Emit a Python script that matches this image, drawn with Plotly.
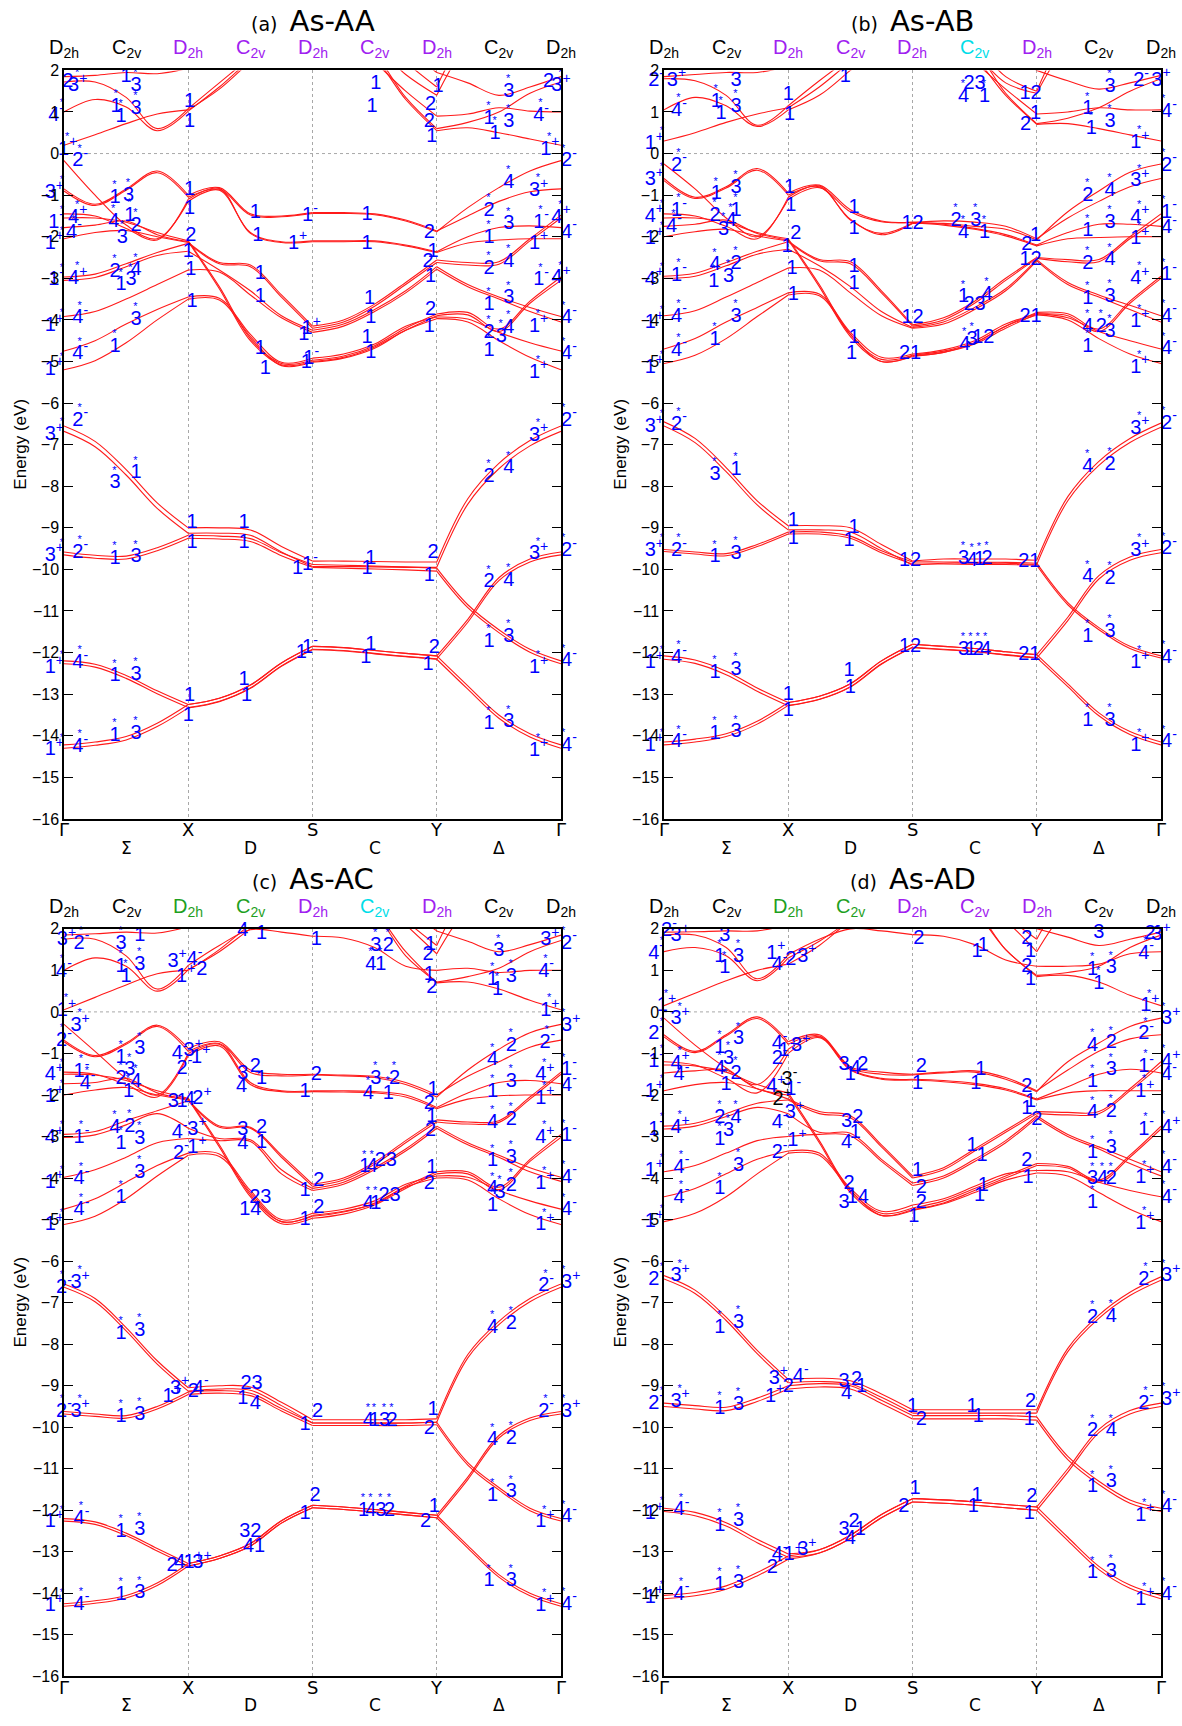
import plotly.graph_objects as go

W, H = 1182, 1726

# k-path nodes: G .25 .5 .75 X | 1.25 1.5 1.75 S | 2.25 2.5 2.75 Y | 3.25 3.5 3.75 G
TICK_TEXT = ["Γ", "X", "S", "Y", "Γ"]
MID_TEXT = ["Σ", "D", "C", "Δ"]
GROUP_TEXT = ["D<sub>2h</sub>", "C<sub>2v</sub>"] * 4 + ["D<sub>2h</sub>"]

# ---------------- panel (a) As-AA ----------------
AA_S = [
    [-14.22, -14.15, -14.02, -13.70, -13.25, -13.10, -12.78, -12.25, -11.85, -11.88, -11.95, -12.02, -12.08, -12.80, -13.50, -13.95, -14.22],
    [-12.20, -12.28, -12.55, -12.92, -13.25, -13.10, -12.78, -12.25, -11.85, -11.88, -11.95, -12.02, -12.08, -11.20, -10.20, -9.75, -9.58],
    [-9.58, -9.66, -9.68, -9.48, -9.18, -9.20, -9.26, -9.60, -9.88, -9.90, -9.92, -9.94, -9.97, -10.85, -11.45, -11.92, -12.20],
    [-6.55, -6.92, -7.60, -8.40, -9.00, -9.00, -9.05, -9.45, -9.80, -9.80, -9.81, -9.82, -9.82, -8.30, -7.45, -6.90, -6.55],
]
AA_SPLIT = [0.08, 0.07, 0.07, 0.13]
AA_V = [
    [-0.85, -1.22, -0.85, -0.42, -1.00, -0.82, -1.45, -1.50, -1.42, -1.42, -1.45, -1.60, -1.86, -1.50, -1.15, -0.92, -0.85],
    [-0.90, -1.25, -0.88, -0.46, -1.05, -0.86, -1.48, -1.52, -1.44, -1.44, -1.47, -1.62, -1.88, -1.30, -0.82, -0.42, -0.17],
    [-0.17, -1.00, -1.72, -2.05, -1.15, -0.88, -1.90, -2.12, -2.10, -2.10, -2.10, -2.20, -2.36, -2.00, -1.78, -1.74, -1.78],
    [-1.45, -1.50, -1.80, -2.08, -1.10, -0.84, -1.92, -2.14, -2.12, -2.12, -2.12, -2.22, -2.38, -2.15, -2.08, -2.05, -2.05],
    [-1.55, -1.55, -1.65, -1.90, -2.10, -3.20, -4.45, -5.05, -4.97, -4.87, -4.62, -4.20, -3.86, -3.82, -4.22, -3.55, -2.97],
    [-1.78, -1.72, -1.62, -1.95, -2.12, -3.25, -4.50, -5.08, -5.00, -4.90, -4.65, -4.25, -3.90, -3.88, -4.28, -3.60, -3.05],
    [-2.05, -1.90, -1.85, -2.00, -2.14, -2.62, -2.68, -3.40, -4.15, -4.00, -3.62, -3.10, -2.56, -2.62, -2.60, -2.05, -1.48],
    [-2.97, -2.90, -2.65, -2.38, -2.16, -2.65, -2.72, -3.45, -4.20, -4.05, -3.67, -3.15, -2.62, -2.68, -2.66, -2.10, -1.55],
    [-3.05, -2.98, -2.72, -2.45, -2.35, -2.80, -3.30, -3.90, -4.25, -4.10, -3.75, -3.30, -2.72, -3.15, -3.45, -3.70, -3.92],
    [-3.92, -3.80, -3.50, -3.15, -2.80, -2.85, -3.40, -3.95, -4.30, -4.15, -3.80, -3.35, -2.78, -3.20, -3.50, -3.80, -4.05],
    [-4.75, -4.50, -4.10, -3.75, -3.45, -3.48, -4.35, -5.02, -4.92, -4.82, -4.58, -4.15, -3.93, -3.98, -4.30, -4.55, -4.75],
    [-5.20, -4.98, -4.55, -4.00, -3.50, -3.52, -4.40, -5.10, -5.02, -4.92, -4.68, -4.25, -3.97, -4.05, -4.50, -4.90, -5.20],
]
AA_C = [
    [0.20, 0.45, 0.72, 0.95, 1.05, 1.55, 2.20, 2.70, 2.90, 2.80, 2.30, 1.30, 0.55, 0.62, 0.50, 0.35, 0.20],
    [1.00, 1.30, 1.12, 0.55, 1.02, 1.60, 2.25, 2.75, 2.95, 2.85, 2.20, 1.50, 0.90, 0.95, 1.10, 1.02, 1.00],
    [1.72, 1.72, 1.35, 0.60, 1.08, 1.70, 2.30, 2.80, 3.00, 2.90, 2.60, 1.90, 1.40, 2.60, 3.00, 3.00, 3.00],
    [1.85, 1.88, 1.95, 1.92, 2.05, 2.60, 3.00, 3.00, 3.00, 3.00, 2.90, 2.20, 1.60, 2.80, 3.00, 3.00, 3.00],
    [3.00, 3.00, 3.00, 3.00, 3.00, 3.00, 3.00, 3.00, 3.00, 3.00, 2.40, 1.35, 0.60, 0.75, 1.00, 1.45, 1.72],
    [3.00, 3.00, 3.00, 3.00, 3.00, 3.00, 3.00, 3.00, 3.00, 3.00, 3.00, 2.50, 1.95, 1.70, 1.40, 1.60, 1.85],
]
AA_GROUP_COLORS = ["black", "black", "purple", "purple", "purple", "purple", "purple", "black", "black"]
AA_LABELS = [
    (0.03, 1.72, "2*"), (0.11, 1.62, "3*+"), (-0.03, 0.90, "4*-"), (0.03, 0.09, "1*+"), (0.13, -0.19, "2*-"), (-0.05, -0.95, "3*+"),
    (-0.04, -1.66, "1*-"), (0.11, -1.54, "4*+"), (0.08, -1.90, "4*-"), (-0.05, -2.17, "1*+"), (-0.04, -3.05, "1*-"), (0.11, -3.02, "4*+"),
    (0.13, -3.96, "4*-"), (-0.05, -4.15, "1*+"), (0.13, -4.83, "4*-"), (-0.05, -5.20, "1*+"),
    (-0.05, -6.77, "3*+"), (0.13, -6.42, "2*-"), (-0.05, -9.67, "3*+"), (0.13, -9.60, "2*-"),
    (-0.05, -12.37, "1*+"), (0.13, -12.25, "4*-"), (-0.05, -14.35, "1*+"), (0.13, -14.27, "4*-"),
    (0.50, 1.83, "1*"), (0.58, 1.63, "3*"), (0.42, 1.12, "1*"), (0.46, 0.88, "1*"), (0.58, 1.08, "3*"),
    (0.41, -1.06, "1*"), (0.52, -1.02, "3*"), (0.40, -1.64, "4*"), (0.53, -1.50, "1*"), (0.58, -1.74, "2*"), (0.47, -2.02, "3*"),
    (0.41, -2.85, "2*"), (0.46, -3.17, "1*"), (0.54, -3.05, "3*"), (0.58, -2.81, "4*"), (0.58, -4.00, "3*"), (0.41, -4.64, "1*"),
    (0.41, -7.93, "3*"), (0.58, -7.69, "1*"), (0.41, -9.74, "1*"), (0.58, -9.71, "3*"),
    (0.41, -12.57, "1*"), (0.58, -12.53, "3*"), (0.41, -14.00, "1*"), (0.58, -13.96, "3*"),
    (1.01, 1.24, "1"), (1.01, 0.76, "1"), (1.01, -0.87, "1"), (1.01, -1.34, "1"), (1.02, -1.98, "2"), (1.00, -2.37, "1"),
    (1.02, -2.81, "1"), (1.03, -3.58, "1"), (1.03, -8.88, "1"), (1.03, -9.36, "1"), (1.01, -13.05, "1"), (1.00, -13.52, "1"),
    (1.54, -1.42, "1"), (1.56, -1.98, "1"), (1.58, -2.89, "1"), (1.58, -3.44, "1"), (1.58, -4.70, "1"), (1.62, -5.19, "1"),
    (1.45, -8.88, "1"), (1.45, -9.36, "1"), (1.45, -12.65, "1"), (1.47, -13.05, "1"),
    (1.98, -1.50, "1-"), (1.88, -2.17, "1+"), (1.93, -4.36, "1"), (1.99, -4.22, "1+"), (1.95, -5.03, "1"), (1.99, -4.95, "1-"),
    (1.88, -10.00, "1"), (1.98, -9.90, "1-"), (1.91, -12.02, "1"), (1.98, -11.90, "1-"),
    (2.51, 1.67, "1"), (2.48, 1.12, "1"), (2.44, -1.48, "1"), (2.44, -2.17, "1"), (2.46, -3.50, "1"), (2.47, -3.96, "1"),
    (2.44, -4.44, "1"), (2.47, -4.79, "1"), (2.47, -9.75, "1"), (2.44, -9.99, "1"), (2.47, -11.82, "1"), (2.43, -12.14, "1"),
    (3.01, 1.60, "1"), (2.95, 1.16, "2"), (2.94, 0.76, "2"), (2.96, 0.40, "1"), (2.94, -1.90, "2"), (2.97, -2.37, "1"),
    (2.93, -2.61, "2"), (2.95, -2.97, "1"), (2.95, -3.76, "2"), (2.94, -4.16, "1"),
    (2.97, -9.60, "2"), (2.94, -10.15, "1"), (2.98, -11.88, "2"), (2.93, -12.30, "1"),
    (3.58, 1.48, "3*"), (3.42, 0.84, "1*"), (3.58, 0.76, "3*"), (3.47, 0.48, "1*"), (3.58, -0.71, "4*"), (3.42, -1.38, "2*"),
    (3.58, -1.70, "3*"), (3.42, -2.02, "1*"), (3.42, -2.77, "2*"), (3.58, -2.61, "4*"), (3.42, -3.64, "1*"), (3.58, -3.48, "3*"),
    (3.42, -4.32, "2*"), (3.52, -4.40, "3*"), (3.58, -4.20, "4*"), (3.42, -4.75, "1*"),
    (3.42, -7.77, "2*"), (3.58, -7.57, "4*"), (3.42, -10.31, "2*"), (3.58, -10.27, "4*"), (3.42, -11.74, "1*"), (3.58, -11.62, "3*"),
    (3.42, -13.72, "1*"), (3.58, -13.68, "3*"),
    (3.90, 1.71, "2*"), (4.00, 1.62, "3*+"), (3.84, 0.90, "4*-"), (3.91, 0.09, "1*+"), (4.01, -0.19, "2*-"), (3.82, -0.90, "3*+"),
    (3.84, -1.66, "1*-"), (4.00, -1.54, "4*+"), (4.01, -1.90, "4-"), (3.82, -2.17, "1+"), (3.84, -3.05, "1*-"), (4.00, -3.00, "4*+"),
    (3.82, -4.16, "1*+"), (4.01, -3.96, "4*-"), (3.82, -5.27, "1*+"), (4.01, -4.83, "4*-"),
    (3.82, -6.78, "3*+"), (4.01, -6.42, "2*-"), (3.82, -9.64, "3*+"), (4.01, -9.56, "2*-"),
    (3.82, -12.37, "1*+"), (4.01, -12.21, "4*-"), (3.82, -14.36, "1*+"), (4.01, -14.24, "4*-"),
]

# ---------------- panel (b) As-AB ----------------
BB_S = [
    [-14.15, -14.08, -13.95, -13.65, -13.20, -13.05, -12.75, -12.20, -11.80, -11.85, -11.90, -11.98, -12.05, -12.75, -13.45, -13.90, -14.15],
    [-12.08, -12.18, -12.45, -12.85, -13.20, -13.05, -12.75, -12.20, -11.80, -11.85, -11.90, -11.98, -12.05, -11.15, -10.15, -9.70, -9.52],
    [-9.52, -9.58, -9.62, -9.40, -9.10, -9.10, -9.20, -9.55, -9.82, -9.82, -9.83, -9.83, -9.85, -10.80, -11.40, -11.85, -12.08],
    [-6.45, -6.85, -7.55, -8.35, -8.95, -8.95, -9.00, -9.40, -9.80, -9.75, -9.75, -9.75, -9.78, -8.25, -7.40, -6.85, -6.48],
]
BB_SPLIT = [0.07, 0.08, 0.05, 0.10]
BB_V = [
    [-0.60, -1.05, -0.80, -0.36, -0.95, -0.76, -1.35, -1.62, -1.66, -1.62, -1.65, -1.75, -2.05, -1.55, -1.15, -0.80, -0.60],
    [-0.65, -1.08, -0.83, -0.40, -1.00, -0.80, -1.58, -1.95, -1.68, -1.68, -1.75, -1.82, -2.08, -1.40, -0.90, -0.45, -0.25],
    [-0.25, -0.85, -1.55, -2.00, -1.10, -0.82, -1.40, -1.64, -1.65, -1.70, -1.80, -1.95, -2.20, -1.90, -1.70, -1.70, -1.75],
    [-1.45, -1.50, -1.75, -2.05, -1.05, -0.78, -1.60, -1.92, -1.67, -1.72, -1.82, -1.98, -2.22, -2.05, -2.02, -2.00, -2.00],
    [-1.55, -1.55, -1.65, -1.90, -2.05, -3.15, -4.35, -4.95, -4.85, -4.75, -4.55, -4.15, -3.82, -3.85, -4.22, -3.55, -2.95],
    [-1.75, -1.70, -1.60, -1.92, -2.08, -3.20, -4.40, -5.00, -4.88, -4.78, -4.58, -4.20, -3.86, -3.90, -4.28, -3.60, -3.00],
    [-2.00, -1.88, -1.82, -1.98, -2.10, -2.55, -2.60, -3.30, -4.12, -3.95, -3.55, -3.00, -2.50, -2.55, -2.55, -2.00, -1.45],
    [-2.95, -2.88, -2.62, -2.35, -2.12, -2.58, -2.65, -3.35, -4.15, -4.00, -3.60, -3.05, -2.52, -2.60, -2.60, -2.05, -1.55],
    [-3.00, -2.95, -2.70, -2.42, -2.30, -2.70, -3.20, -3.80, -4.18, -4.05, -3.70, -3.25, -2.55, -3.10, -3.40, -3.65, -3.90],
    [-3.90, -3.78, -3.45, -3.10, -2.75, -2.80, -3.35, -3.90, -4.20, -4.10, -3.75, -3.30, -2.58, -3.15, -3.45, -3.75, -4.05],
    [-4.70, -4.45, -4.05, -3.70, -3.35, -3.38, -4.30, -4.90, -4.82, -4.72, -4.50, -4.10, -3.85, -3.95, -4.28, -4.50, -4.70],
    [-5.05, -4.85, -4.45, -3.92, -3.40, -3.42, -4.35, -5.00, -4.86, -4.78, -4.55, -4.15, -3.88, -4.00, -4.45, -4.82, -5.05],
]
BB_C = [
    [0.30, 0.50, 0.75, 0.95, 1.10, 1.60, 2.20, 2.70, 2.90, 2.80, 2.30, 1.40, 0.70, 0.72, 0.60, 0.45, 0.30],
    [1.05, 1.35, 1.15, 0.65, 1.05, 1.40, 2.00, 2.60, 2.90, 2.80, 2.20, 1.55, 0.95, 1.00, 1.10, 1.05, 1.05],
    [1.80, 1.75, 1.40, 0.68, 1.15, 1.75, 2.30, 2.80, 3.00, 2.90, 2.40, 1.70, 1.45, 2.60, 3.00, 3.00, 3.00],
    [1.85, 1.90, 1.95, 1.95, 2.10, 2.60, 3.00, 3.00, 3.00, 3.00, 2.60, 1.85, 1.50, 2.80, 3.00, 3.00, 3.00],
    [3.00, 3.00, 3.00, 3.00, 3.00, 3.00, 3.00, 3.00, 3.00, 3.00, 2.50, 1.45, 0.72, 0.85, 1.10, 1.50, 1.80],
    [3.00, 3.00, 3.00, 3.00, 3.00, 3.00, 3.00, 3.00, 3.00, 3.00, 3.00, 2.50, 2.00, 1.75, 1.55, 1.70, 1.88],
]
BB_GROUP_COLORS = ["black", "black", "purple", "purple", "purple", "cyan", "purple", "black", "black"]
BB_LABELS = [
    (-0.05, 1.74, "2*-"), (0.10, 1.75, "3*+"), (0.12, 1.02, "4*-"), (-0.06, 0.23, "1*+"), (0.12, -0.29, "2*-"), (-0.06, -0.64, "3*+"),
    (-0.06, -1.52, "4*+"), (0.12, -1.38, "1*-"), (0.08, -1.76, "4*-"), (-0.06, -2.06, "1*+"), (-0.06, -3.03, "4*+"), (0.12, -2.94, "1*-"),
    (0.12, -3.92, "4*-"), (-0.06, -4.08, "1*+"), (0.12, -4.74, "4*-"), (-0.06, -5.15, "1*+"),
    (-0.06, -6.58, "3*+"), (0.12, -6.52, "2*-"), (-0.06, -9.56, "3*+"), (0.12, -9.56, "2*-"),
    (-0.06, -12.25, "1*+"), (0.12, -12.13, "4*-"), (-0.06, -14.24, "1*+"), (0.12, -14.16, "4*-"),
    (0.58, 1.74, "3*"), (0.42, 1.24, "1*"), (0.46, 0.96, "1*"), (0.58, 1.13, "3*"), (0.42, -0.98, "1*"), (0.58, -0.83, "3*"),
    (0.41, -1.50, "2*"), (0.58, -1.38, "1*"), (0.54, -1.62, "4*"), (0.48, -1.83, "3*"), (0.41, -2.69, "4*"), (0.58, -2.65, "2*"),
    (0.52, -2.97, "3*"), (0.40, -3.09, "1*"), (0.58, -3.92, "3*"), (0.41, -4.48, "1*"), (0.41, -7.73, "3*"), (0.58, -7.61, "1*"),
    (0.41, -9.71, "1*"), (0.58, -9.63, "3*"), (0.41, -12.49, "1*"), (0.58, -12.41, "3*"), (0.41, -13.96, "1*"), (0.58, -13.92, "3*"),
    (1.00, 1.40, "1"), (1.01, 0.92, "1"), (1.01, -0.83, "1"), (1.02, -1.26, "1"), (1.06, -1.94, "2"), (0.99, -2.25, "1"),
    (1.03, -2.77, "1"), (1.04, -3.40, "1"), (1.04, -8.84, "1"), (1.04, -9.28, "1"), (1.00, -13.01, "1"), (1.00, -13.40, "1"),
    (1.46, 1.83, "1"), (1.53, -1.30, "1"), (1.53, -1.82, "1"), (1.53, -2.73, "1"), (1.53, -3.13, "1"), (1.53, -4.44, "1"),
    (1.51, -4.83, "1"), (1.53, -9.00, "1"), (1.49, -9.32, "1"), (1.49, -12.45, "1"), (1.50, -12.85, "1"),
    (2.00, -1.70, "12"), (2.00, -3.96, "12"), (1.98, -4.83, "21"), (1.98, -9.79, "12"), (1.98, -11.86, "12"),
    (2.35, -1.62, "2*"), (2.41, -1.90, "4*"), (2.51, -1.62, "3*"), (2.58, -1.90, "1*"), (2.50, 1.67, "23"), (2.41, 1.36, "4*"),
    (2.58, 1.36, "1*"), (2.41, -3.46, "1*"), (2.50, -3.64, "23"), (2.60, -3.40, "4*"), (2.42, -4.60, "4*"), (2.48, -4.48, "3*"),
    (2.57, -4.44, "12"), (2.41, -9.75, "3*"), (2.48, -9.80, "4*"), (2.54, -9.77, "1*"), (2.60, -9.75, "2*"),
    (2.41, -11.94, "3*"), (2.47, -11.94, "1*"), (2.53, -11.94, "2*"), (2.59, -11.94, "4*"),
    (2.95, 1.44, "12"), (2.99, 0.94, "1"), (2.91, 0.68, "2"), (2.99, -1.98, "1"), (2.92, -2.21, "2"), (2.95, -2.57, "12"),
    (2.95, -3.92, "21"), (2.94, -9.83, "21"), (2.94, -12.05, "21"),
    (3.59, 1.60, "3*"), (3.41, 1.06, "1*"), (3.44, 0.60, "1*"), (3.59, 0.76, "3*"), (3.41, -1.02, "2*"), (3.59, -0.89, "4*"),
    (3.41, -1.87, "1*"), (3.59, -1.66, "3*"), (3.41, -2.65, "2*"), (3.59, -2.57, "4*"), (3.41, -3.50, "1*"), (3.59, -3.44, "3*"),
    (3.41, -4.16, "4*"), (3.52, -4.16, "2*"), (3.59, -4.28, "3*"), (3.41, -4.64, "1*"),
    (3.41, -7.53, "4*"), (3.59, -7.49, "2*"), (3.41, -10.19, "4*"), (3.59, -10.23, "2*"), (3.41, -11.62, "1*"), (3.59, -11.50, "3*"),
    (3.41, -13.64, "1*"), (3.59, -13.64, "3*"),
    (3.84, 1.74, "2*-"), (4.00, 1.75, "3*+"), (4.01, 1.00, "4*-"), (3.83, 0.25, "1*+"), (4.01, -0.29, "2*-"), (3.83, -0.67, "3*+"),
    (3.83, -1.54, "4*+"), (4.01, -1.42, "1*-"), (4.01, -1.80, "4-"), (3.83, -2.06, "1*+"), (3.83, -3.02, "4*+"), (4.01, -2.93, "1*-"),
    (3.83, -4.04, "1*+"), (4.01, -3.92, "4*-"), (4.01, -4.71, "4*-"), (3.83, -5.15, "1*+"),
    (3.83, -6.62, "3*+"), (4.01, -6.50, "2*-"), (3.83, -9.56, "3*+"), (4.01, -9.52, "2*-"),
    (3.83, -12.25, "1*+"), (4.01, -12.13, "4*-"), (3.83, -14.24, "1*+"), (4.01, -14.16, "4*-"),
]

# ---------------- panel (c) As-AC ----------------
CC_S = [
    [-14.25, -14.18, -14.05, -13.75, -13.28, -13.10, -12.80, -12.25, -11.88, -11.92, -11.98, -12.05, -12.12, -12.85, -13.55, -14.00, -14.25],
    [-12.20, -12.28, -12.55, -12.92, -13.28, -13.10, -12.80, -12.25, -11.88, -11.92, -11.98, -12.05, -12.12, -11.20, -10.20, -9.78, -9.62],
    [-9.62, -9.68, -9.72, -9.50, -9.15, -9.12, -9.18, -9.55, -9.90, -9.90, -9.90, -9.90, -9.88, -10.85, -11.45, -11.95, -12.20],
    [-6.55, -6.90, -7.60, -8.40, -9.05, -9.00, -9.03, -9.40, -9.82, -9.82, -9.82, -9.82, -9.80, -8.25, -7.45, -6.90, -6.55],
]
CC_SPLIT = [0.06, 0.06, 0.06, 0.08]
CC_V = [
    [-0.68, -1.05, -0.75, -0.32, -0.88, -0.72, -1.40, -1.50, -1.50, -1.52, -1.55, -1.70, -2.00, -1.55, -1.20, -0.85, -0.68],
    [-0.72, -1.08, -0.78, -0.35, -0.95, -0.76, -1.46, -1.54, -1.52, -1.54, -1.58, -1.75, -2.05, -1.40, -0.90, -0.50, -0.30],
    [-0.30, -0.95, -1.60, -2.00, -1.00, -0.78, -1.70, -1.90, -1.90, -1.90, -1.92, -2.00, -2.30, -1.95, -1.70, -1.65, -1.73],
    [-1.45, -1.50, -1.75, -2.05, -1.05, -0.82, -1.75, -1.92, -1.92, -1.93, -1.95, -2.05, -2.33, -2.10, -2.02, -2.00, -2.00],
    [-1.50, -1.52, -1.65, -1.90, -2.08, -3.20, -4.40, -5.05, -4.92, -4.82, -4.60, -4.20, -3.85, -3.85, -4.22, -3.55, -2.95],
    [-1.73, -1.70, -1.60, -1.95, -2.10, -3.25, -4.45, -5.10, -4.97, -4.87, -4.65, -4.25, -3.90, -3.90, -4.28, -3.60, -3.02],
    [-2.00, -1.88, -1.82, -2.00, -2.12, -2.75, -2.78, -3.45, -4.15, -4.00, -3.62, -3.10, -2.60, -2.65, -2.62, -2.05, -1.45],
    [-2.95, -2.88, -2.62, -2.38, -2.14, -2.78, -2.80, -3.50, -4.20, -4.05, -3.67, -3.15, -2.65, -2.70, -2.66, -2.10, -1.50],
    [-3.02, -2.96, -2.72, -2.45, -2.80, -3.05, -3.08, -3.80, -4.25, -4.10, -3.75, -3.30, -2.75, -3.15, -3.45, -3.75, -3.98],
    [-3.98, -3.80, -3.50, -3.15, -3.05, -3.10, -3.12, -3.90, -4.30, -4.15, -3.80, -3.35, -2.80, -3.20, -3.50, -3.85, -4.08],
    [-4.75, -4.50, -4.10, -3.70, -3.40, -3.42, -4.30, -5.00, -4.85, -4.75, -4.55, -4.15, -3.95, -3.98, -4.30, -4.55, -4.75],
    [-5.12, -4.92, -4.50, -3.95, -3.45, -3.48, -4.35, -5.05, -4.90, -4.80, -4.62, -4.22, -4.00, -4.05, -4.50, -4.88, -5.12],
]
CC_C = [
    [0.05, 0.35, 0.65, 0.92, 1.00, 1.50, 2.10, 2.60, 2.90, 2.80, 2.40, 1.45, 0.70, 0.72, 0.55, 0.28, 0.05],
    [1.00, 1.30, 1.10, 0.50, 1.02, 1.45, 2.00, 2.50, 2.90, 3.00, 2.80, 2.10, 1.40, 2.50, 3.00, 3.00, 3.00],
    [1.75, 1.75, 1.35, 0.55, 1.12, 1.60, 1.98, 1.92, 1.82, 1.78, 1.55, 1.10, 1.00, 1.05, 0.95, 1.00, 1.00],
    [1.85, 1.88, 1.92, 1.90, 2.05, 2.60, 3.00, 3.00, 3.00, 3.00, 2.90, 2.20, 1.60, 2.80, 3.00, 3.00, 3.00],
    [3.00, 3.00, 3.00, 3.00, 3.00, 3.00, 3.00, 3.00, 3.00, 3.00, 2.40, 1.35, 0.72, 0.85, 1.05, 1.45, 1.72],
    [3.00, 3.00, 3.00, 3.00, 3.00, 3.00, 3.00, 3.00, 3.00, 3.00, 3.00, 2.50, 1.95, 1.70, 1.45, 1.62, 1.85],
]
CC_GROUP_COLORS = ["black", "black", "green", "green", "purple", "cyan", "purple", "black", "black"]
CC_LABELS = [
    (0.02, 1.72, "3*+"), (0.14, 1.64, "2*-"), (0.00, 0.97, "4*-"), (0.02, 0.02, "1*+"), (0.13, -0.34, "3*+"), (0.00, -0.70, "2*-"),
    (-0.01, -1.53, "4*+"), (0.14, -1.45, "1*-"), (0.19, -1.73, "4*-"), (-0.01, -2.05, "1*+"), (-0.01, -3.04, "4*+"), (0.14, -3.04, "1*-"),
    (0.14, -4.03, "4*-"), (-0.01, -4.11, "1*+"), (0.14, -4.78, "4*-"), (-0.01, -5.14, "1*+"),
    (0.00, -6.65, "2*-"), (0.13, -6.53, "3*+"), (0.00, -9.63, "2*-"), (0.13, -9.63, "3*+"),
    (-0.01, -12.29, "1*+"), (0.14, -12.21, "4*-"), (-0.01, -14.31, "1*+"), (0.14, -14.27, "4*-"),
    (0.46, 1.64, "3*"), (0.61, 1.83, "1*"), (0.46, 1.09, "1*"), (0.61, 1.14, "3*"), (0.50, 0.85, "1*"),
    (0.46, -1.10, "1*"), (0.61, -0.90, "3*"), (0.46, -1.61, "2*"), (0.53, -1.41, "3*"), (0.58, -1.69, "4*"), (0.52, -1.93, "1*"),
    (0.41, -2.80, "4*"), (0.53, -2.76, "2*"), (0.61, -3.06, "3*"), (0.46, -3.17, "1*"), (0.61, -3.87, "3*"), (0.46, -4.47, "1*"),
    (0.46, -7.76, "1*"), (0.61, -7.68, "3*"), (0.46, -9.75, "1*"), (0.61, -9.71, "3*"),
    (0.46, -12.52, "1*"), (0.61, -12.48, "3*"), (0.46, -14.03, "1*"), (0.61, -14.00, "3*"),
    (0.91, 1.21, "3+"), (1.05, 1.25, "4-"), (0.98, 0.85, "1+"), (1.11, 1.01, "2"),
    (0.93, -1.02, "4-"), (1.04, -0.94, "3+"), (1.10, -1.10, "1+"), (0.97, -1.37, "2-"),
    (0.88, -2.17, "3"), (0.95, -2.17, "1"), (1.01, -2.13, "4"), (1.11, -2.10, "2+"),
    (0.93, -2.92, "4-"), (1.07, -2.84, "3+"), (0.94, -3.41, "2-"), (1.07, -3.28, "1+"),
    (0.87, -9.27, "1+"), (0.93, -9.07, "3+"), (1.04, -9.15, "2"), (1.10, -9.07, "4-"),
    (0.87, -13.33, "2"), (0.95, -13.28, "4-"), (1.04, -13.28, "1+"), (1.11, -13.28, "3+"),
    (1.44, 1.96, "4"), (1.59, 1.88, "1"), (1.44, -1.49, "3"), (1.54, -1.33, "2"), (1.43, -1.81, "4"), (1.59, -1.61, "1"),
    (1.44, -2.84, "3"), (1.59, -2.80, "2"), (1.44, -3.17, "4"), (1.59, -3.16, "1"), (1.58, -4.49, "23"), (1.50, -4.78, "14"),
    (1.51, -8.95, "23"), (1.44, -9.31, "1"), (1.54, -9.43, "4"), (1.50, -12.52, "32"), (1.53, -12.88, "41"),
    (2.03, 1.74, "1"), (2.03, -1.53, "2"), (1.94, -1.93, "1"), (2.05, -4.07, "2"), (1.94, -4.31, "1"), (2.05, -4.71, "2"),
    (1.94, -5.02, "1"), (2.04, -9.63, "2"), (1.94, -9.94, "1"), (2.02, -11.65, "2"), (1.94, -12.09, "1"),
    (2.51, 1.59, "3*"), (2.61, 1.59, "2*"), (2.47, 1.14, "4*"), (2.55, 1.14, "1*"), (2.51, -1.61, "3*"), (2.66, -1.61, "2*"),
    (2.45, -1.98, "4*"), (2.61, -1.98, "1*"), (2.42, -3.74, "1*"), (2.48, -3.74, "4*"), (2.59, -3.58, "23"),
    (2.45, -4.63, "4*"), (2.51, -4.63, "1*"), (2.62, -4.43, "23"),
    (2.45, -9.85, "4*"), (2.50, -9.85, "1*"), (2.58, -9.85, "3*"), (2.64, -9.85, "2*"),
    (2.41, -12.01, "1*"), (2.47, -12.01, "4*"), (2.55, -12.01, "3*"), (2.62, -12.01, "2*"),
    (2.95, 1.62, "1"), (2.93, 1.37, "2"), (2.94, 0.89, "1"), (2.96, 0.57, "2"), (2.97, -1.89, "1"), (2.94, -2.21, "2"),
    (2.96, -2.52, "1"), (2.95, -2.86, "2"), (2.96, -3.75, "1"), (2.94, -4.15, "2"),
    (2.97, -9.59, "1"), (2.94, -10.05, "2"), (2.98, -11.93, "1"), (2.91, -12.29, "2"),
    (3.50, 1.46, "3*"), (3.45, 0.77, "1*"), (3.60, 0.85, "3*"), (3.49, 0.53, "1*"), (3.60, -0.82, "2*"), (3.45, -1.17, "4*"),
    (3.60, -1.69, "3*"), (3.45, -1.93, "1*"), (3.45, -2.68, "4*"), (3.60, -2.60, "2*"), (3.45, -3.60, "1*"), (3.60, -3.52, "3*"),
    (3.45, -4.27, "4*"), (3.51, -4.35, "3*"), (3.60, -4.19, "2*"), (3.45, -4.67, "1*"),
    (3.45, -7.60, "4*"), (3.60, -7.52, "2*"), (3.45, -10.32, "4*"), (3.60, -10.28, "2*"), (3.45, -11.65, "1*"), (3.60, -11.57, "3*"),
    (3.42, -13.71, "1*"), (3.60, -13.71, "3*"),
    (3.91, 1.72, "3*+"), (4.03, 1.64, "2*-"), (3.88, 0.97, "4*-"), (3.91, 0.02, "1*+"), (4.02, -0.34, "3*+"), (3.89, -0.74, "2*-"),
    (3.87, -1.53, "4*+"), (4.03, -1.41, "1*-"), (4.03, -1.79, "4-"), (3.87, -2.09, "1*+"), (3.87, -3.04, "4*+"), (4.03, -3.00, "1*-"),
    (3.87, -4.14, "1*+"), (4.03, -3.99, "4*-"), (4.03, -4.78, "4*-"), (3.87, -5.14, "1*+"),
    (3.88, -6.61, "2*-"), (4.02, -6.53, "3*+"), (3.88, -9.63, "2*-"), (4.02, -9.63, "3*+"),
    (3.87, -12.29, "1*+"), (4.03, -12.17, "4*-"), (3.87, -14.31, "1*+"), (4.03, -14.27, "4*-"),
]

# ---------------- panel (d) As-AD ----------------
DD_S = [
    [-14.05, -13.98, -13.82, -13.50, -13.10, -12.95, -12.60, -12.10, -11.72, -11.75, -11.80, -11.86, -11.92, -12.65, -13.35, -13.80, -14.05],
    [-11.95, -12.05, -12.30, -12.70, -13.05, -12.95, -12.60, -12.10, -11.72, -11.75, -11.80, -11.86, -11.92, -11.00, -10.05, -9.60, -9.42],
    [-9.42, -9.48, -9.52, -9.30, -9.00, -8.95, -9.00, -9.35, -9.72, -9.72, -9.72, -9.72, -9.75, -10.70, -11.30, -11.75, -11.95],
    [-6.35, -6.70, -7.35, -8.15, -8.85, -8.82, -8.88, -9.20, -9.58, -9.58, -9.58, -9.58, -9.58, -8.10, -7.30, -6.75, -6.38],
]
DD_SPLIT = [0.08, 0.08, 0.08, 0.08]
DD_V = [
    [-0.55, -0.95, -0.55, -0.12, -0.72, -0.55, -1.32, -1.45, -1.50, -1.45, -1.42, -1.58, -1.90, -1.40, -0.95, -0.65, -0.55],
    [-0.60, -0.98, -0.58, -0.16, -0.78, -0.58, -1.35, -1.50, -1.52, -1.47, -1.45, -1.62, -1.92, -1.20, -0.75, -0.35, -0.15],
    [-0.15, -0.80, -1.35, -1.75, -0.90, -0.60, -1.38, -1.60, -1.62, -1.65, -1.72, -1.85, -2.10, -1.80, -1.50, -1.38, -1.47],
    [-1.20, -1.28, -1.60, -1.95, -1.00, -0.62, -1.40, -1.62, -1.64, -1.68, -1.75, -1.88, -2.12, -1.95, -1.90, -1.90, -1.90],
    [-1.28, -1.30, -1.45, -1.75, -1.95, -3.10, -4.30, -4.85, -4.72, -4.55, -4.25, -3.95, -3.65, -3.72, -4.05, -3.45, -2.75],
    [-1.47, -1.42, -1.40, -1.85, -2.00, -3.15, -4.35, -4.90, -4.76, -4.60, -4.30, -4.00, -3.70, -3.76, -4.10, -3.50, -2.82],
    [-1.90, -1.75, -1.70, -1.85, -2.10, -2.40, -2.50, -3.20, -3.95, -3.75, -3.30, -2.85, -2.40, -2.42, -2.40, -1.85, -1.20],
    [-2.75, -2.68, -2.45, -2.20, -2.12, -2.45, -2.55, -3.25, -4.00, -3.80, -3.35, -2.90, -2.45, -2.48, -2.45, -1.90, -1.28],
    [-2.82, -2.75, -2.52, -2.30, -2.45, -2.90, -2.92, -3.55, -4.12, -3.95, -3.55, -3.10, -2.50, -2.95, -3.25, -3.55, -3.85],
    [-3.85, -3.70, -3.40, -3.10, -3.00, -2.95, -2.98, -3.60, -4.18, -4.00, -3.60, -3.15, -2.55, -3.00, -3.30, -3.65, -3.95],
    [-4.45, -4.25, -3.90, -3.55, -3.35, -3.40, -4.25, -4.80, -4.65, -4.50, -4.20, -3.90, -3.82, -3.85, -4.10, -4.30, -4.45],
    [-5.05, -4.85, -4.45, -3.90, -3.40, -3.45, -4.30, -4.90, -4.78, -4.62, -4.35, -4.05, -3.88, -3.95, -4.35, -4.75, -5.05],
]
DD_C = [
    [0.15, 0.45, 0.75, 1.00, 1.15, 1.60, 2.20, 2.70, 2.90, 2.80, 2.40, 1.50, 0.85, 0.88, 0.72, 0.40, 0.15],
    [1.45, 1.55, 1.35, 0.75, 1.30, 1.70, 2.20, 2.60, 2.90, 3.00, 2.80, 2.20, 1.45, 2.50, 3.00, 3.00, 3.00],
    [1.85, 1.85, 1.55, 0.80, 1.38, 1.75, 2.00, 1.95, 1.86, 1.82, 1.62, 1.25, 1.10, 1.10, 1.15, 1.40, 1.45],
    [1.92, 1.93, 1.95, 1.95, 2.10, 2.60, 3.00, 3.00, 3.00, 3.00, 2.90, 2.30, 1.75, 2.80, 3.00, 3.00, 3.00],
    [3.00, 3.00, 3.00, 3.00, 3.00, 3.00, 3.00, 3.00, 3.00, 3.00, 2.50, 1.50, 0.88, 0.95, 1.10, 1.55, 1.85],
    [3.00, 3.00, 3.00, 3.00, 3.00, 3.00, 3.00, 3.00, 3.00, 3.00, 3.00, 2.60, 2.00, 1.80, 1.60, 1.75, 1.92],
]
DD_GROUP_COLORS = ["black", "black", "green", "green", "purple", "purple", "purple", "black", "black"]
DD_LABELS = [
    (0.04, 1.94, "2*-"), (0.13, 1.83, "3*+"), (-0.01, 1.40, "4*-"), (0.02, 0.13, "1*+"), (0.13, -0.18, "3*+"), (-0.01, -0.54, "2*-"),
    (-0.02, -1.21, "1*-"), (0.13, -1.25, "4*+"), (0.14, -1.53, "4-"), (-0.02, -1.93, "1*+"), (-0.01, -2.84, "1*-"), (0.13, -2.80, "4*+"),
    (-0.02, -3.83, "1*+"), (0.14, -3.75, "4*-"), (0.14, -4.47, "4*-"), (-0.01, -5.06, "1*+"),
    (-0.01, -6.45, "2*-"), (0.13, -6.37, "3*+"), (-0.01, -9.43, "2*-"), (0.13, -9.39, "3*+"),
    (-0.02, -12.09, "1*+"), (0.14, -12.00, "4*-"), (-0.02, -14.11, "1*+"), (0.14, -14.03, "4*-"),
    (0.49, 1.83, "3*"), (0.45, 1.33, "1*"), (0.60, 1.33, "3*"), (0.49, 1.05, "1*"), (0.45, -0.86, "1*"), (0.60, -0.66, "3*"),
    (0.52, -1.13, "3*"), (0.45, -1.37, "4*"), (0.58, -1.49, "2*"), (0.50, -1.77, "1*"), (0.45, -2.56, "2*"), (0.58, -2.56, "4*"),
    (0.52, -2.88, "3*"), (0.45, -3.08, "1*"), (0.60, -3.71, "3*"), (0.45, -4.27, "1*"),
    (0.45, -7.60, "1*"), (0.60, -7.48, "3*"), (0.45, -9.55, "1*"), (0.60, -9.47, "3*"),
    (0.45, -12.37, "1*"), (0.60, -12.25, "3*"), (0.45, -13.79, "1*"), (0.60, -13.75, "3*"),
    (0.90, 1.40, "1+"), (0.93, 1.13, "4-"), (1.04, 1.25, "2-"), (1.15, 1.33, "3+"),
    (0.93, -0.78, "4-"), (1.00, -0.94, "1+"), (1.10, -0.82, "3+"), (0.93, -1.13, "2-"),
    (1.01, -1.65, "3-#"), (0.90, -1.81, "4+"), (0.95, -2.13, "2+#"), (1.04, -1.89, "1-"),
    (0.93, -2.68, "4-"), (1.05, -2.44, "3+"), (0.93, -3.40, "2-"), (1.07, -3.12, "1+"),
    (0.92, -8.83, "3+"), (1.10, -8.79, "4-"), (0.89, -9.27, "1+"), (1.00, -9.03, "2"),
    (0.93, -13.08, "4-"), (1.04, -13.08, "1+"), (1.15, -12.96, "3+"), (0.89, -13.40, "2-"),
    (1.45, -1.29, "3"), (1.50, -1.53, "1"), (1.54, -1.37, "4"), (1.60, -1.29, "2"),
    (1.47, -2.64, "3"), (1.56, -2.56, "2"), (1.54, -2.92, "1"), (1.47, -3.16, "4"),
    (1.49, -4.15, "2"), (1.45, -4.59, "3"), (1.56, -4.47, "14"),
    (1.45, -8.92, "3"), (1.55, -8.87, "2"), (1.59, -9.03, "1"), (1.47, -9.19, "4"),
    (1.45, -12.48, "3"), (1.53, -12.29, "2"), (1.58, -12.48, "1"), (1.50, -12.68, "4"),
    (2.05, 1.76, "2"), (2.07, -1.33, "2"), (2.04, -1.73, "1"), (2.04, -3.83, "1"), (2.07, -4.23, "2"), (2.07, -4.59, "2"),
    (2.01, -4.94, "1"), (2.00, -9.51, "1"), (2.07, -9.83, "2"), (2.02, -11.49, "1"), (1.93, -11.93, "2"),
    (2.52, 1.44, "1"), (2.57, 1.59, "1"), (2.55, -1.41, "1"), (2.51, -1.73, "1"), (2.48, -3.24, "1"), (2.56, -3.48, "1"),
    (2.57, -4.19, "1"), (2.54, -4.43, "1"), (2.48, -9.51, "1"), (2.53, -9.75, "1"), (2.52, -11.65, "1"), (2.49, -11.93, "1"),
    (2.92, 1.76, "2"), (2.95, 1.44, "1"), (2.92, 1.09, "2"), (2.95, 0.77, "1"), (2.92, -1.81, "2"), (2.95, -2.17, "1"),
    (2.92, -2.33, "1"), (3.00, -2.60, "2"), (2.92, -3.60, "2"), (2.93, -3.99, "1"),
    (2.95, -9.39, "2"), (2.94, -9.83, "1"), (2.96, -11.69, "2"), (2.94, -12.09, "1"),
    (3.50, 1.90, "3*"), (3.45, 1.01, "1*"), (3.60, 1.05, "3*"), (3.50, 0.67, "1*"), (3.45, -0.82, "4*"), (3.60, -0.76, "2*"),
    (3.45, -1.69, "1*"), (3.60, -1.41, "3*"), (3.45, -2.44, "4*"), (3.60, -2.40, "2*"), (3.45, -3.40, "1*"), (3.60, -3.28, "3*"),
    (3.45, -4.03, "3*"), (3.53, -4.03, "4*"), (3.60, -4.03, "2*"), (3.45, -4.59, "1*"),
    (3.45, -7.37, "2*"), (3.60, -7.35, "4*"), (3.45, -10.10, "2*"), (3.60, -10.10, "4*"), (3.45, -11.45, "1*"), (3.60, -11.33, "3*"),
    (3.45, -13.52, "1*"), (3.60, -13.48, "3*"),
    (3.93, 1.88, "2*-"), (4.00, 1.84, "3*+"), (3.88, 1.40, "4*-"), (3.91, 0.13, "1*+"), (4.01, -0.18, "3*+"), (3.88, -0.54, "2*-"),
    (3.88, -1.33, "1*-"), (4.01, -1.21, "4*+"), (4.02, -1.53, "4-"), (3.87, -1.93, "1*+"), (3.88, -2.84, "1*-"), (4.01, -2.80, "4*+"),
    (3.87, -3.99, "1*+"), (4.02, -3.75, "4*-"), (4.02, -4.47, "4*-"), (3.87, -5.10, "1*+"),
    (3.88, -6.45, "2*-"), (4.01, -6.37, "3*+"), (3.88, -9.43, "2*-"), (4.01, -9.35, "3*+"),
    (3.87, -12.13, "1*+"), (4.02, -11.93, "4*-"), (3.87, -14.15, "1*+"), (4.02, -14.03, "4*-"),
]

COLOR_MAP = {"black": "#000000", "purple": "#a020f0", "green": "#1f9f1f", "cyan": "#00dde8"}

PANELS = [
    dict(tag="(a)", name="As-AA", S=AA_S, split=AA_SPLIT, V=AA_V, C=AA_C, gc=AA_GROUP_COLORS, labels=AA_LABELS,
         left=64, right=561, top=63, bottom=819),
    dict(tag="(b)", name="As-AB", S=BB_S, split=BB_SPLIT, V=BB_V, C=BB_C, gc=BB_GROUP_COLORS, labels=BB_LABELS,
         left=664, right=1161, top=63, bottom=819),
    dict(tag="(c)", name="As-AC", S=CC_S, split=CC_SPLIT, V=CC_V, C=CC_C, gc=CC_GROUP_COLORS, labels=CC_LABELS,
         left=64, right=561, top=930, bottom=1685),
    dict(tag="(d)", name="As-AD", S=DD_S, split=DD_SPLIT, V=DD_V, C=DD_C, gc=DD_GROUP_COLORS, labels=DD_LABELS,
         left=664, right=1161, top=930, bottom=1685),
]


def add_line(xs, ys, vals, offset=0.0):
    for s in range(4):
        for j in range(5):
            xs.append(s + 0.25 * j)
            ys.append(vals[4 * s + j] - offset)
        xs.append(None)
        ys.append(None)


def place(k):
    # points outside [0, 4] are not drawn by plotly; pin them to the frame and shift the text instead
    if k < 0:
        return 0.0, "middle left"
    if k > 4:
        return 4.0, "middle right"
    return k, "middle center"


fig = go.Figure()
annotations = []
shapes = []
FONT = "Liberation Sans"

for i, p in enumerate(PANELS, 1):
    xr = "x" if i == 1 else f"x{i}"
    yr = "y" if i == 1 else f"y{i}"
    xs, ys = [], []
    for vals, sp in zip(p["S"], p["split"]):
        add_line(xs, ys, vals)
        add_line(xs, ys, vals, sp)
    for vals in p["V"]:
        add_line(xs, ys, vals)
    for vals in p["C"]:
        add_line(xs, ys, vals)
    fig.add_trace(go.Scatter(x=xs, y=ys, mode="lines", xaxis=xr, yaxis=yr,
                             line=dict(color="#ff1a1a", width=1.1, shape="spline", smoothing=1.0),
                             hoverinfo="skip", showlegend=False))

    # band labels
    tx, ty, tt, tc, tp = [], [], [], [], []
    sx, sy, sc, sp_ = [], [], [], []
    for k, e, s in p["labels"]:
        col = "#000000" if "#" in s else "#0000ff"
        s = s.replace("#", "")
        star = "*" in s
        s = s.replace("*", "")
        sign = ""
        if s and s[-1] in "+-":
            sign = s[-1]
            s = s[:-1]
        txt = s + (f"<sup>{sign}</sup>" if sign else "")
        kk, pos = place(k)
        tx.append(kk)
        ty.append(e)
        tt.append(txt)
        tc.append(col)
        tp.append(pos)
        if star:
            sk, spos = place(k - 0.005)
            sx.append(sk)
            sy.append(e + 0.30)
            sc.append(col)
            sp_.append(spos)
    fig.add_trace(go.Scatter(x=tx, y=ty, mode="text", text=tt, xaxis=xr, yaxis=yr,
                             textfont=dict(size=20, color=tc, family=FONT), textposition=tp,
                             cliponaxis=False, hoverinfo="skip", showlegend=False))
    fig.add_trace(go.Scatter(x=sx, y=sy, mode="text", text=["*"] * len(sx), xaxis=xr, yaxis=yr,
                             textfont=dict(size=11, color=sc, family=FONT), textposition=sp_,
                             cliponaxis=False, hoverinfo="skip", showlegend=False))

    xd = [p["left"] / W, p["right"] / W]
    yd = [1 - p["bottom"] / H, 1 - p["top"] / H]
    xkey = "xaxis" if i == 1 else f"xaxis{i}"
    ykey = "yaxis" if i == 1 else f"yaxis{i}"
    fig.layout[xkey] = dict(domain=xd, anchor=yr, range=[0, 4], tickvals=[0, 1, 2, 3, 4],
                            showticklabels=False,
                            showgrid=True, gridcolor="#a8a8a8", griddash="dot", gridwidth=1,
                            showline=True, linecolor="black", linewidth=1.5, mirror=True, ticks="",
                            zeroline=False)
    fig.layout[ykey] = dict(domain=yd, anchor=xr, range=[-16, 2], tick0=-16, dtick=1,
                            ticks="inside", ticklen=9, tickwidth=1, tickcolor="black",
                            showline=True, linecolor="black", linewidth=1.5, mirror="ticks",
                            showgrid=False, zeroline=False,
                            tickfont=dict(size=16, family=FONT, color="black"))

    shapes.append(dict(type="line", xref=xr, yref=yr, x0=0, x1=4, y0=0, y1=0,
                       line=dict(color="#a8a8a8", width=1, dash="dot"), layer="below"))

    # k-point labels (first row) and line labels (second row)
    for j, t in enumerate(TICK_TEXT):
        annotations.append(dict(x=j, xref=xr, y=1 - (p["bottom"] + 11) / H, yref="paper",
                                text=t, showarrow=False, xanchor="center", yanchor="middle",
                                font=dict(size=18, family="DejaVu Sans", color="black")))
    for j, t in enumerate(MID_TEXT):
        annotations.append(dict(x=j + 0.5, xref=xr, y=1 - (p["bottom"] + 29) / H, yref="paper",
                                text=t, showarrow=False, xanchor="center", yanchor="middle",
                                font=dict(size=17, family="DejaVu Sans", color="black")))
    # point-group labels
    for j, (t, c) in enumerate(zip(GROUP_TEXT, p["gc"])):
        annotations.append(dict(x=j * 0.5, xref=xr, y=1 - (p["top"] - 22) / H, yref="paper",
                                text=t, showarrow=False, xanchor="center", yanchor="middle",
                                font=dict(size=20, family=FONT, color=COLOR_MAP[c])))
    # title
    annotations.append(dict(x=(p["left"] + p["right"]) / 2 / W, xref="paper",
                            y=1 - (p["top"] - 50) / H, yref="paper", showarrow=False,
                            xanchor="center", yanchor="middle",
                            text=f"{p['tag']}  <span style='font-size:29px'>{p['name']}</span>",
                            font=dict(size=19, family="DejaVu Sans", color="black")))
    # y title
    annotations.append(dict(x=(p["left"] - 43) / W, xref="paper", y=1 - (p["top"] + p["bottom"]) / 2 / H,
                            yref="paper", text="Energy (eV)", textangle=-90, showarrow=False,
                            xanchor="center", yanchor="middle",
                            font=dict(size=17, family=FONT, color="black")))

fig.update_layout(width=W, height=H, margin=dict(l=0, r=0, t=0, b=0),
                  paper_bgcolor="white", plot_bgcolor="white", showlegend=False,
                  annotations=annotations, shapes=shapes, hovermode=False)

fig.write_html("out.html")
